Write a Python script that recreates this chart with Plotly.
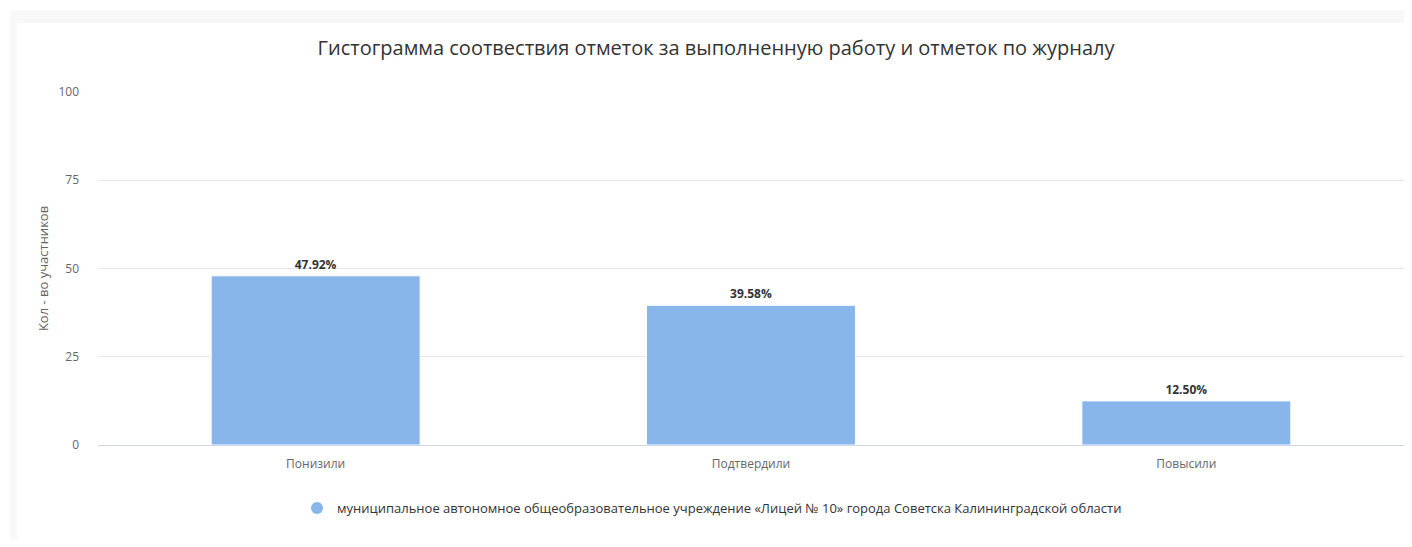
import plotly.graph_objects as go

categories = ["Понизили", "Подтвердили", "Повысили"]
values = [47.92, 39.58, 12.50]
labels = ["47.92%", "39.58%", "12.50%"]
series_name = "муниципальное автономное общеобразовательное учреждение «Лицей № 10» города Советска Калининградской области"
y_ticks = [0, 25, 50, 75, 100]

W, H = 1396, 531
L, R, T, B = 90, 0, 84, 94
PW, PH = W - L - R, H - T - B
FONT = "Open Sans, sans-serif"

fig = go.Figure()
fig.add_trace(go.Bar(
    x=categories, y=values, name=series_name,
    text=labels, textposition="outside",
    texttemplate="<b>%{text}</b>",
    textfont=dict(family=FONT, size=12, color="#333333"),
    marker=dict(color="#88b5ea", line=dict(color="#ffffff", width=1)),
    width=0.48, cliponaxis=False, showlegend=False,
))
# legend entry with a round symbol
fig.add_trace(go.Scatter(
    x=[None], y=[None], mode="markers", name=series_name,
    marker=dict(color="#88b5ea", symbol="circle", size=12),
    showlegend=True,
))

fig.update_layout(
    width=W, height=H,
    margin=dict(l=L, r=R, t=T, b=B),
    paper_bgcolor="#ffffff", plot_bgcolor="#ffffff",
    title=dict(text="Гистограмма соотвествия отметок за выполненную работу и отметок по журналу",
               x=(716 - 8) / W, xanchor="center", y=1 - 40 / H, yanchor="middle",
               font=dict(family=FONT, size=20, color="#333333")),
    xaxis=dict(showgrid=False, showline=True, linecolor="#ccd6eb", linewidth=1,
               ticks="", ticklabelstandoff=8,
               tickfont=dict(family=FONT, size=12, color="#666666"),
               fixedrange=True),
    yaxis=dict(range=[0, 100], tickvals=y_ticks, showgrid=True, gridcolor="#e6e6e6",
               zeroline=False, ticks="", ticklabelstandoff=18,
               tickfont=dict(family=FONT, size=12, color="#666666"),
               title=dict(text="Кол - во участников", standoff=6,
                          font=dict(family=FONT, size=13, color="#666666"))),
    legend=dict(orientation="h", x=(712 - 8 - L) / PW, xanchor="center",
                y=-(493 - 8 - (T + PH)) / PH, yanchor="top",
                font=dict(family=FONT, size=13, color="#333333"),
                itemsizing="constant"),
    shapes=[
        dict(type="rect", xref="paper", yref="paper", x0=-(L - 2) / PW, x1=(W - L) / PW,
             y0=1 + (T - 15) / PH, y1=1 + (T - 2) / PH,
             fillcolor="#f8f8f8", line=dict(width=0), layer="below"),
        dict(type="rect", xref="paper", yref="paper", x0=-(L - 2) / PW, x1=-(L - 9) / PW,
             y0=-B / PH, y1=1 + (T - 2) / PH,
             fillcolor="#f8f8f8", line=dict(width=0), layer="below"),
    ],
)

fig.write_html("out.html")
